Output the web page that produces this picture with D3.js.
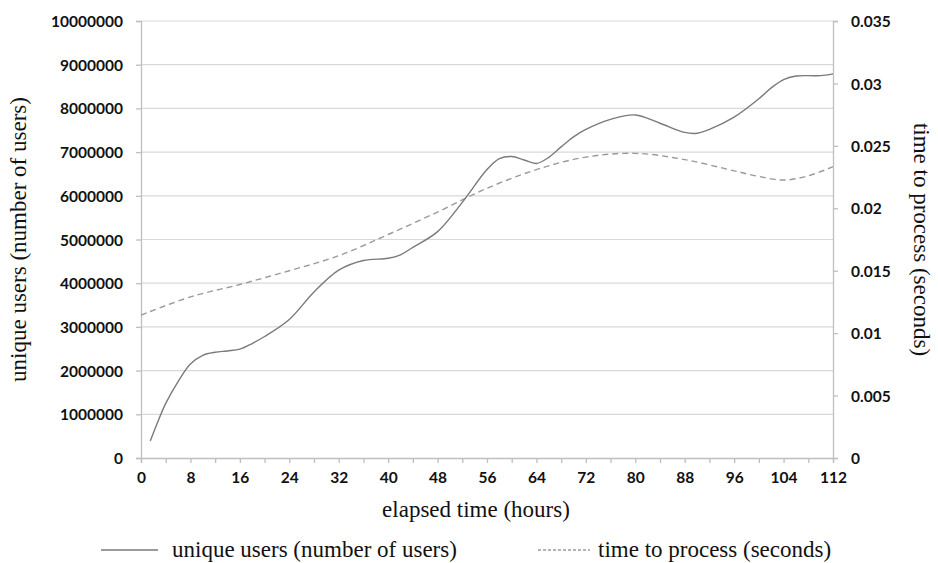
<!DOCTYPE html>
<html>
<head>
<meta charset="utf-8">
<script src="https://cdn.jsdelivr.net/npm/d3@7.9.0/dist/d3.min.js"></script>
<style>
  body { margin: 0; background: #fff; }
  .tick text { font-family: Lato, "Open Sans", sans-serif; font-weight: 700; font-size: 15.5px; fill: #111; }
  .title { font-family: "Liberation Serif", "Times New Roman", serif; font-size: 23px; fill: #111; }
</style>
</head>
<body>
<svg width="938" height="563"></svg>
<script>
// unique users (hours -> users)
const userHours = [1.5, 2.5, 4, 6, 8, 10, 12, 14, 16, 18, 20, 24, 28, 32, 36, 40, 42, 44, 48, 52, 56, 58, 60, 62, 64, 66, 68, 70, 72, 76, 80, 84, 88, 90, 92, 96, 100, 102, 104, 106, 108, 110, 112];
const userValues = [390000, 750000, 1250000, 1750000, 2150000, 2350000, 2420000, 2450000, 2490000, 2620000, 2780000, 3170000, 3800000, 4300000, 4520000, 4570000, 4650000, 4820000, 5180000, 5850000, 6600000, 6850000, 6900000, 6820000, 6740000, 6880000, 7120000, 7350000, 7520000, 7750000, 7850000, 7660000, 7450000, 7430000, 7520000, 7800000, 8220000, 8470000, 8660000, 8740000, 8750000, 8750000, 8790000];

// time to process, dashed line (hours -> seconds)
const timeHours = [0, 8, 16, 24, 32, 40, 48, 56, 64, 72, 80, 88, 96, 100, 104, 108, 112];
const timeValues = [0.01145, 0.0129, 0.0139, 0.0150, 0.0162, 0.0179, 0.0197, 0.0216, 0.0231, 0.0241, 0.0244, 0.0239, 0.0230, 0.02255, 0.02226, 0.0226, 0.02333];

const xTicks = d3.range(0, 113, 8);
const xMinorTicks = d3.range(0, 113, 4);
const leftTicks = d3.range(0, 10000001, 1000000);
const rightTicks = [0, 0.005, 0.01, 0.015, 0.02, 0.025, 0.03, 0.035];

const margin = { top: 21, right: 105, bottom: 105, left: 141 };
const width = 938, height = 563;

let svg = d3.select("svg");

let x = d3.scaleLinear().domain([0, 112]).range([margin.left, width - margin.right]);
let yLeft = d3.scaleLinear().domain([0, 10000000]).range([height - margin.bottom, margin.top]);
let yRight = d3.scaleLinear().domain([0, 0.035]).range([height - margin.bottom, margin.top]);

// gridlines
svg.append("g")
  .selectAll("line")
  .data(leftTicks.slice(1))
  .join("line")
  .attr("x1", x(0)).attr("x2", x(112))
  .attr("y1", d => yLeft(d)).attr("y2", d => yLeft(d))
  .attr("stroke", "#d9d9d9")
  .attr("stroke-width", 1.2);

// left axis
let leftAxis = svg.append("g")
  .attr("transform", `translate(${x(0)},0)`)
  .call(d3.axisLeft(yLeft).tickValues(leftTicks).tickFormat(d3.format("d")).tickSize(5).tickPadding(13));

// right axis
let rightAxis = svg.append("g")
  .attr("transform", `translate(${x(112)},0)`)
  .call(d3.axisRight(yRight).tickValues(rightTicks).tickFormat(d => d === 0 ? "0" : String(+d.toFixed(3))).tickSize(5).tickPadding(13));

// bottom axis, minor ticks every 4 hours
let bottomAxis = svg.append("g")
  .attr("transform", `translate(0,${yLeft(0)})`)
  .call(d3.axisBottom(x).tickValues(xMinorTicks).tickFormat(d => d % 8 === 0 ? d : "").tickSize(5).tickPadding(9));

[leftAxis, rightAxis, bottomAxis].forEach(g => {
  g.select(".domain").attr("stroke", "#bfbfbf").attr("stroke-width", 1.3);
  g.selectAll(".tick line").attr("stroke", "#bfbfbf").attr("stroke-width", 1.3);
});
leftAxis.selectAll(".tick text").attr("dy", "0.36em");
rightAxis.selectAll(".tick text").attr("dy", "0.36em");

// lines
let userLine = d3.line()
  .x((d, i) => x(userHours[i]))
  .y(d => yLeft(d))
  .curve(d3.curveCatmullRom.alpha(0.5));

let timeLine = d3.line()
  .x((d, i) => x(timeHours[i]))
  .y(d => yRight(d))
  .curve(d3.curveCatmullRom.alpha(0.5));

svg.append("path")
  .attr("d", timeLine(timeValues))
  .attr("fill", "none")
  .attr("stroke", "#9a9a9a")
  .attr("stroke-width", 1.4)
  .attr("stroke-dasharray", "6,4");

svg.append("path")
  .attr("d", userLine(userValues))
  .attr("fill", "none")
  .attr("stroke", "#7a7a7a")
  .attr("stroke-width", 1.4);

// axis titles
svg.append("text")
  .attr("class", "title")
  .attr("transform", `translate(26,${(margin.top + height - margin.bottom) / 2}) rotate(-90)`)
  .attr("text-anchor", "middle")
  .text("unique users (number of users)");

svg.append("text")
  .attr("class", "title")
  .attr("transform", `translate(914,${(margin.top + height - margin.bottom) / 2}) rotate(90)`)
  .attr("text-anchor", "middle")
  .text("time to process (seconds)");

svg.append("text")
  .attr("class", "title")
  .attr("x", 476)
  .attr("y", 517)
  .attr("text-anchor", "middle")
  .text("elapsed time (hours)");

// legend
let legend = svg.append("g");
legend.append("line")
  .attr("x1", 101).attr("x2", 158).attr("y1", 550).attr("y2", 550)
  .attr("stroke", "#7a7a7a").attr("stroke-width", 1.3);
legend.append("text")
  .attr("class", "title")
  .attr("x", 172).attr("y", 557)
  .text("unique users (number of users)");
legend.append("line")
  .attr("x1", 538).attr("x2", 590).attr("y1", 550).attr("y2", 550)
  .attr("stroke", "#9a9a9a").attr("stroke-width", 1.3)
  .attr("stroke-dasharray", "3,2");
legend.append("text")
  .attr("class", "title")
  .attr("x", 598).attr("y", 557)
  .text("time to process (seconds)");
</script>
</body>
</html>
